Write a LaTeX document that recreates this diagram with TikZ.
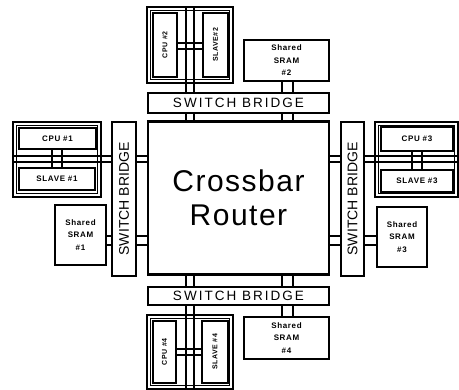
\documentclass[tikz,border=0pt]{standalone}
\usepackage{fontspec}
\setmainfont{Liberation Sans}
\newfontfamily\lblfont[LetterSpace=8]{Liberation Sans Bold}
\newfontfamily\brfont[LetterSpace=15]{Liberation Sans}
\newfontfamily\xbfont[LetterSpace=5]{Liberation Sans}
\tikzset{
  blk/.style={draw, line width=2pt, inner sep=0pt, outer sep=0pt, align=center},
  innerline/.style={line width=0.8pt},
  bus/.style={line width=1.5pt},
  lbl/.style={font=\lblfont\fontsize{8}{12.5}\selectfont},
  vlbl/.style={font=\lblfont\fontsize{7}{9}\selectfont, rotate=90, inner sep=0pt},
  sram/.style={blk, font=\lblfont\fontsize{8}{12.5}\selectfont},
  hbr/.style={blk, font=\brfont\fontsize{13.5}{15}\selectfont},
  vbrtext/.style={font=\fontsize{14}{16}\selectfont, rotate=90, inner sep=0pt}
}
\begin{document}
\begin{tikzpicture}[x=1pt, y=-1pt]
\useasboundingbox (0,0) rectangle (459,390);
% crossbar and bridges
\node[blk, line width=2.4pt, minimum width=181, minimum height=153, font=\xbfont\fontsize{30}{34}\selectfont] (cb) at (238.5,198) {Crossbar\\Router};
\node[hbr, minimum width=181, minimum height=20] (brT) at (238.5,103) {SWITCH BRIDGE};
\node[hbr, minimum width=181, minimum height=18] (brB) at (238.5,296) {SWITCH BRIDGE};
\node[blk, minimum width=24, minimum height=154] (brL) at (124,199) {};
\node[blk, minimum width=23, minimum height=154] (brR) at (352.5,199) {};
\node[vbrtext] (tL) at (brL) {SWITCH BRIDGE};
\node[vbrtext] (tR) at (brR) {SWITCH BRIDGE};
% groups
\node[blk, minimum width=86, minimum height=76] (gT) at (190,45) {};
\draw[innerline] ([shift={(3.5,3.5)}]gT.north west) rectangle ([shift={(-3.5,-3.5)}]gT.south east);
\node[blk, minimum width=24, minimum height=64] (cpu2) at (165,45) {};
\node[blk, minimum width=25, minimum height=64] (slv2) at (215.5,45) {};
\node[vlbl] (tcpu2) at (cpu2) {CPU \#2};
\node[vlbl] (tslv2) at (slv2) {SLAVE\#2};

\node[blk, minimum width=86, minimum height=74] (gB) at (190,352) {};
\draw[innerline] ([shift={(3.5,3.5)}]gB.north west) rectangle ([shift={(-3.5,-3.5)}]gB.south east);
\node[blk, minimum width=23, minimum height=62] (cpu4) at (164.5,352) {};
\node[blk, minimum width=26, minimum height=62] (slv4) at (215,352) {};
\node[vlbl] (tcpu4) at (cpu4) {CPU \#4};
\node[vlbl] (tslv4) at (slv4) {SLAVE \#4};

\node[blk, minimum width=88, minimum height=75] (gL) at (57,159.5) {};
\draw[innerline] ([shift={(3.5,3.5)}]gL.north west) rectangle ([shift={(-3.5,-3.5)}]gL.south east);
\node[blk, lbl, minimum width=77, minimum height=21] (cpu1) at (57.5,138.5) {CPU \#1};
\node[blk, lbl, minimum width=76, minimum height=22] (slv1) at (57,179) {SLAVE \#1};

\node[blk, minimum width=83, minimum height=75] (gR) at (416.5,159.5) {};
\draw[innerline] ([shift={(3.5,3.5)}]gR.north west) rectangle ([shift={(-3.5,-3.5)}]gR.south east);
\node[blk, lbl, minimum width=72, minimum height=24] (cpu3) at (417,139) {CPU \#3};
\node[blk, lbl, minimum width=72, minimum height=22] (slv3) at (417,181) {SLAVE \#3};
% SRAMs
\node[sram, minimum width=85, minimum height=41] (s2) at (286.5,60.5) {Shared\\SRAM\\\#2};
\node[sram, minimum width=85, minimum height=42] (s4) at (286.5,338) {Shared\\SRAM\\\#4};
\node[sram, minimum width=51, minimum height=60] (s1) at (80.5,235) {Shared\\SRAM\\\#1};
\node[sram, minimum width=50, minimum height=60] (s3) at (402,237) {Shared\\SRAM\\\#3};
% bus coordinates
\coordinate (xa) at (186,0); \coordinate (xb) at (194,0);
\coordinate (xc) at (282,0); \coordinate (xd) at (293,0);
\coordinate (ya) at (0,156); \coordinate (yb) at (0,162);
\coordinate (yc) at (0,236); \coordinate (yd) at (0,245);
\coordinate (ye) at (0,43); \coordinate (yf) at (0,49);
\coordinate (yg) at (0,349); \coordinate (yh) at (0,355);
\coordinate (xe) at (52,0); \coordinate (xf) at (62,0);
\coordinate (xg) at (412,0); \coordinate (xh) at (422,0);
% vertical buses
\foreach \c in {xa,xb} {
  \draw[bus] (gT.north -| \c) -- (brT.north -| \c);
  \draw[bus] (brT.south -| \c) -- (cb.north -| \c);
  \draw[bus] (brB.south -| \c) -- (gB.south -| \c);
  \draw[bus] (cb.south -| \c) -- (brB.north -| \c);
}
\foreach \c in {xc,xd} {
  \draw[bus] (s2.south -| \c) -- (brT.north -| \c);
  \draw[bus] (brT.south -| \c) -- (cb.north -| \c);
  \draw[bus] (cb.south -| \c) -- (brB.north -| \c);
  \draw[bus] (brB.south -| \c) -- (s4.north -| \c);
}
\foreach \c in {ye,yf} \draw[bus] (cpu2.east |- \c) -- (slv2.west |- \c);
\foreach \c in {yg,yh} \draw[bus] (cpu4.east |- \c) -- (slv4.west |- \c);
% horizontal buses
\foreach \c in {ya,yb} {
  \draw[bus] (gL.west |- \c) -- (brL.west |- \c);
  \draw[bus] (brL.east |- \c) -- (cb.west |- \c);
  \draw[bus] (cb.east |- \c) -- (brR.west |- \c);
  \draw[bus] (brR.east |- \c) -- (gR.east |- \c);
}
\foreach \c in {yc,yd} {
  \draw[bus] (s1.east |- \c) -- (brL.west |- \c);
  \draw[bus] (brL.east |- \c) -- (cb.west |- \c);
  \draw[bus] (cb.east |- \c) -- (brR.west |- \c);
  \draw[bus] (brR.east |- \c) -- (s3.west |- \c);
}
\foreach \c in {xe,xf} \draw[bus] (cpu1.south -| \c) -- (slv1.north -| \c);
\foreach \c in {xg,xh} \draw[bus] (cpu3.south -| \c) -- (slv3.north -| \c);
\end{tikzpicture}
\end{document}
